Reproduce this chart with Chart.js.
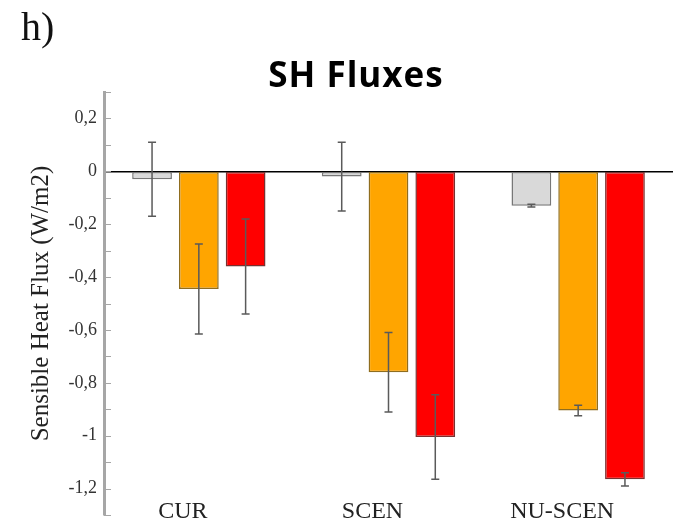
<!DOCTYPE html>
<html>
<head>
<meta charset="utf-8">
<script src="https://cdn.jsdelivr.net/npm/chart.js@4/dist/chart.umd.min.js"></script>
<style>
  html, body { margin: 0; padding: 0; background: #fff; }
  #wrap { width: 673px; height: 524px; position: relative; }
</style>
</head>
<body>
<div id="wrap"><canvas id="shChart"></canvas></div>
<script>
const categories = ["CUR", "SCEN", "NU-SCEN"]

// bar heights (W/m2) and half-length of the error bars
const greyValues = [-0.03, -0.02, -0.13]
const greyErrors = [0.14, 0.13, 0.005]
const orangeValues = [-0.445, -0.76, -0.905]
const orangeErrors = [0.17, 0.15, 0.02]
const redValues = [-0.36, -1.005, -1.165]
const redErrors = [0.18, 0.16, 0.025]

const yMin = -1.3
const yMax = 0.3
const yStep = 0.1

const errorsByDataset = [greyErrors, orangeErrors, redErrors]

const serif = "'Liberation Serif', 'Times New Roman', serif"

// error bars, drawn from the y scale
const errorBars = {
  id: "errorBars",
  afterDatasetsDraw(chart) {
    const ctx = chart.ctx
    const yScale = chart.scales.y
    ctx.save()
    ctx.strokeStyle = "#5a5a5a"
    ctx.lineWidth = 1.5
    chart.data.datasets.forEach((ds, i) => {
      const meta = chart.getDatasetMeta(i)
      const errs = errorsByDataset[i]
      meta.data.forEach((bar, j) => {
        const v = ds.data[j]
        const top = yScale.getPixelForValue(v + errs[j])
        const bot = yScale.getPixelForValue(v - errs[j])
        ctx.beginPath()
        ctx.moveTo(bar.x, top)
        ctx.lineTo(bar.x, bot)
        ctx.moveTo(bar.x - 4, top)
        ctx.lineTo(bar.x + 4, top)
        ctx.moveTo(bar.x - 4, bot)
        ctx.lineTo(bar.x + 4, bot)
        ctx.stroke()
      })
    })
    ctx.restore()
  },
}

// small inward ticks on the y axis + the "h)" and title text
const extras = {
  id: "extras",
  afterDraw(chart) {
    const ctx = chart.ctx
    const yScale = chart.scales.y
    const left = chart.chartArea.left
    ctx.save()
    ctx.strokeStyle = "#a6a6a6"
    ctx.lineWidth = 1
    yScale.ticks.forEach((t) => {
      const y = Math.round(yScale.getPixelForValue(t.value)) + 0.5
      ctx.beginPath()
      ctx.moveTo(left, y)
      ctx.lineTo(left + 7, y)
      ctx.stroke()
    })
    ctx.fillStyle = "#111"
    ctx.textBaseline = "alphabetic"
    ctx.textAlign = "left"
    ctx.font = "40px " + serif
    ctx.fillText("h)", 21, 40)
    ctx.fillStyle = "#000"
    ctx.textAlign = "center"
    ctx.font = "bold 35px 'Open Sans', sans-serif"
    ctx.letterSpacing = "1px"
    ctx.fillText("SH Fluxes", 356, 87)
    ctx.restore()
  },
}

const shData = {
  labels: categories,
  datasets: [
    {
      label: "grey",
      data: greyValues,
      backgroundColor: "#d9d9d9",
      borderColor: "#777777",
      borderWidth: 1.5,
      borderSkipped: false,
    },
    {
      label: "orange",
      data: orangeValues,
      backgroundColor: "#ffa500",
      borderColor: "#8f6d1f",
      borderWidth: 1.5,
      borderSkipped: false,
    },
    {
      label: "red",
      data: redValues,
      backgroundColor: "#ff0000",
      borderColor: "#7a3030",
      borderWidth: 1.5,
      borderSkipped: false,
    },
  ],
}

const shConfig = {
  type: "bar",
  data: shData,
  options: {
    responsive: true,
    maintainAspectRatio: false,
    animation: false,
    categoryPercentage: 0.74,
    barPercentage: 0.85,
    layout: { padding: { top: 92, right: 0, left: 0, bottom: 0 } },
    plugins: {
      legend: { display: false },
      title: { display: false },
      tooltip: { enabled: false },
    },
    scales: {
      x: {
        grid: { display: false, drawTicks: false },
        border: { display: false },
        ticks: {
          mirror: true,
          color: "#222",
          font: { family: serif, size: 24 },
          padding: -11,
          labelOffset: -16,
          maxRotation: 0,
        },
        afterFit(scale) {
          scale.height = 9
        },
      },
      y: {
        min: yMin,
        max: yMax,
        border: { display: true, color: "#a6a6a6", width: 3 },
        grid: {
          drawTicks: false,
          color: (c) => (c.tick && Math.abs(c.tick.value) < 1e-9 ? "#000" : "rgba(0,0,0,0)"),
          lineWidth: 1.5,
        },
        ticks: {
          stepSize: yStep,
          color: "#333",
          padding: 7,
          font: { family: serif, size: 18 },
          callback: (v) => {
            const n = Math.round(v * 10)
            if (n % 2 !== 0) return ""
            return String(n / 10).replace(".", ",")
          },
        },
        title: {
          display: true,
          text: "Sensible Heat Flux (W/m2)",
          color: "#222",
          font: { family: serif, size: 25 },
          padding: { top: 26, bottom: 0 },
        },
        afterFit(scale) {
          scale.width = 104
          scale.paddingTop = 0
          scale.paddingBottom = 0
        },
      },
    },
  },
  plugins: [errorBars, extras],
}

const shChart = new Chart(document.getElementById("shChart"), shConfig)
</script>
</body>
</html>
